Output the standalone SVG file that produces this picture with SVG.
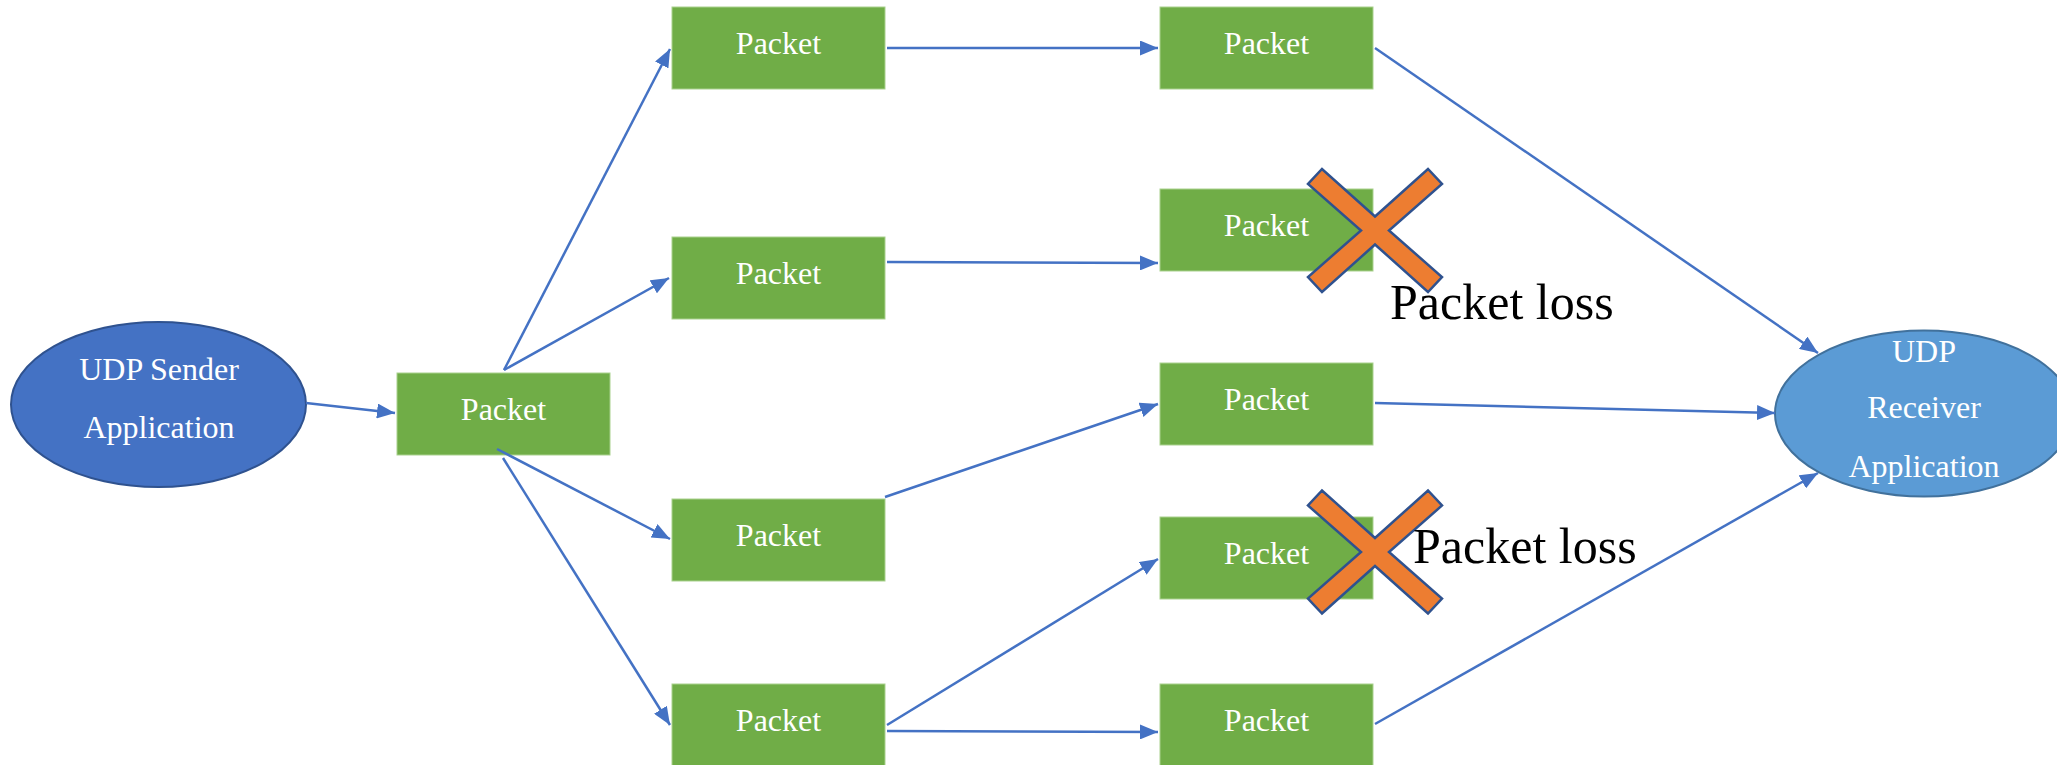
<svg xmlns="http://www.w3.org/2000/svg" width="2057" height="765" viewBox="0 0 2057 765">
<style>
.pk rect{fill:#70AD47;stroke:#A9D18E;stroke-width:1}
.pk text,.app text{font-family:"Liberation Serif","Times New Roman",serif;font-size:32px;fill:#FFFFFF;text-anchor:middle}
.con line{stroke:#4472C4;stroke-width:2.5;marker-end:url(#ah)}
.x polygon{fill:#ED7D31;stroke:#2F528F;stroke-width:2.5;stroke-linejoin:miter}
.lbl{font-family:"Liberation Serif","Times New Roman",serif;font-size:50px;fill:#000000}
</style>
<defs>
<marker id="ah" markerUnits="userSpaceOnUse" markerWidth="19" markerHeight="15" refX="18" refY="7.5" orient="auto">
<path d="M0,0 L18,7.5 L0,15 z" fill="#4472C4"/>
</marker>
</defs>
<rect width="2057" height="765" fill="#FFFFFF"/>
<g id="sender" class="app">
<ellipse cx="158.5" cy="404.5" rx="147.5" ry="82.5" fill="#4472C4" stroke="#2F528F" stroke-width="2"/>
<text x="159" y="380">UDP Sender</text>
<text x="159" y="438">Application</text>
</g>
<g id="receiver" class="app">
<ellipse cx="1924" cy="413.5" rx="149" ry="83" fill="#5B9BD5" stroke="#41719C" stroke-width="2"/>
<text x="1924" y="362">UDP</text>
<text x="1924" y="418">Receiver</text>
<text x="1924" y="477">Application</text>
</g>
<g id="p0" class="pk"><rect x="397" y="373" width="213" height="82"/><text x="503.5" y="420">Packet</text></g>
<g id="p1a" class="pk"><rect x="672" y="7" width="213" height="82"/><text x="778.5" y="54">Packet</text></g>
<g id="p1b" class="pk"><rect x="672" y="237" width="213" height="82"/><text x="778.5" y="284">Packet</text></g>
<g id="p1c" class="pk"><rect x="672" y="499" width="213" height="82"/><text x="778.5" y="546">Packet</text></g>
<g id="p1d" class="pk"><rect x="672" y="684" width="213" height="82"/><text x="778.5" y="731">Packet</text></g>
<g id="p2a" class="pk"><rect x="1160" y="7" width="213" height="82"/><text x="1266.5" y="54">Packet</text></g>
<g id="p2b" class="pk"><rect x="1160" y="189" width="213" height="82"/><text x="1266.5" y="236">Packet</text></g>
<g id="p2c" class="pk"><rect x="1160" y="363" width="213" height="82"/><text x="1266.5" y="410">Packet</text></g>
<g id="p2d" class="pk"><rect x="1160" y="517" width="213" height="82"/><text x="1266.5" y="564">Packet</text></g>
<g id="p2e" class="pk"><rect x="1160" y="684" width="213" height="82"/><text x="1266.5" y="731">Packet</text></g>
<g id="connectors" class="con">
<line x1="306" y1="403" x2="395" y2="413"/>
<line x1="504" y1="370" x2="670" y2="49"/>
<line x1="504" y1="370" x2="669" y2="278"/>
<line x1="497" y1="449" x2="670" y2="539"/>
<line x1="503" y1="458" x2="670" y2="725"/>
<line x1="887" y1="48" x2="1158" y2="48"/>
<line x1="887" y1="262" x2="1158" y2="263"/>
<line x1="885" y1="497" x2="1158" y2="404"/>
<line x1="887" y1="725" x2="1158" y2="559"/>
<line x1="887" y1="731" x2="1158" y2="732"/>
<line x1="1375" y1="48" x2="1818" y2="353"/>
<line x1="1375" y1="403" x2="1775" y2="413"/>
<line x1="1375" y1="724" x2="1818" y2="473"/>
</g>
<g id="loss1" class="x">
<polygon transform="translate(1375,230.5)" points="0,-14 53,-61.5 67,-46.5 14,0 67,46.5 53,61.5 0,14 -53,61.5 -67,46.5 -14,0 -67,-46.5 -53,-61.5"/>
<text class="lbl" x="1390" y="319">Packet loss</text>
</g>
<g id="loss2" class="x">
<polygon transform="translate(1375,552)" points="0,-14 53,-61.5 67,-46.5 14,0 67,46.5 53,61.5 0,14 -53,61.5 -67,46.5 -14,0 -67,-46.5 -53,-61.5"/>
<text class="lbl" x="1413" y="563">Packet loss</text>
</g>
</svg>
